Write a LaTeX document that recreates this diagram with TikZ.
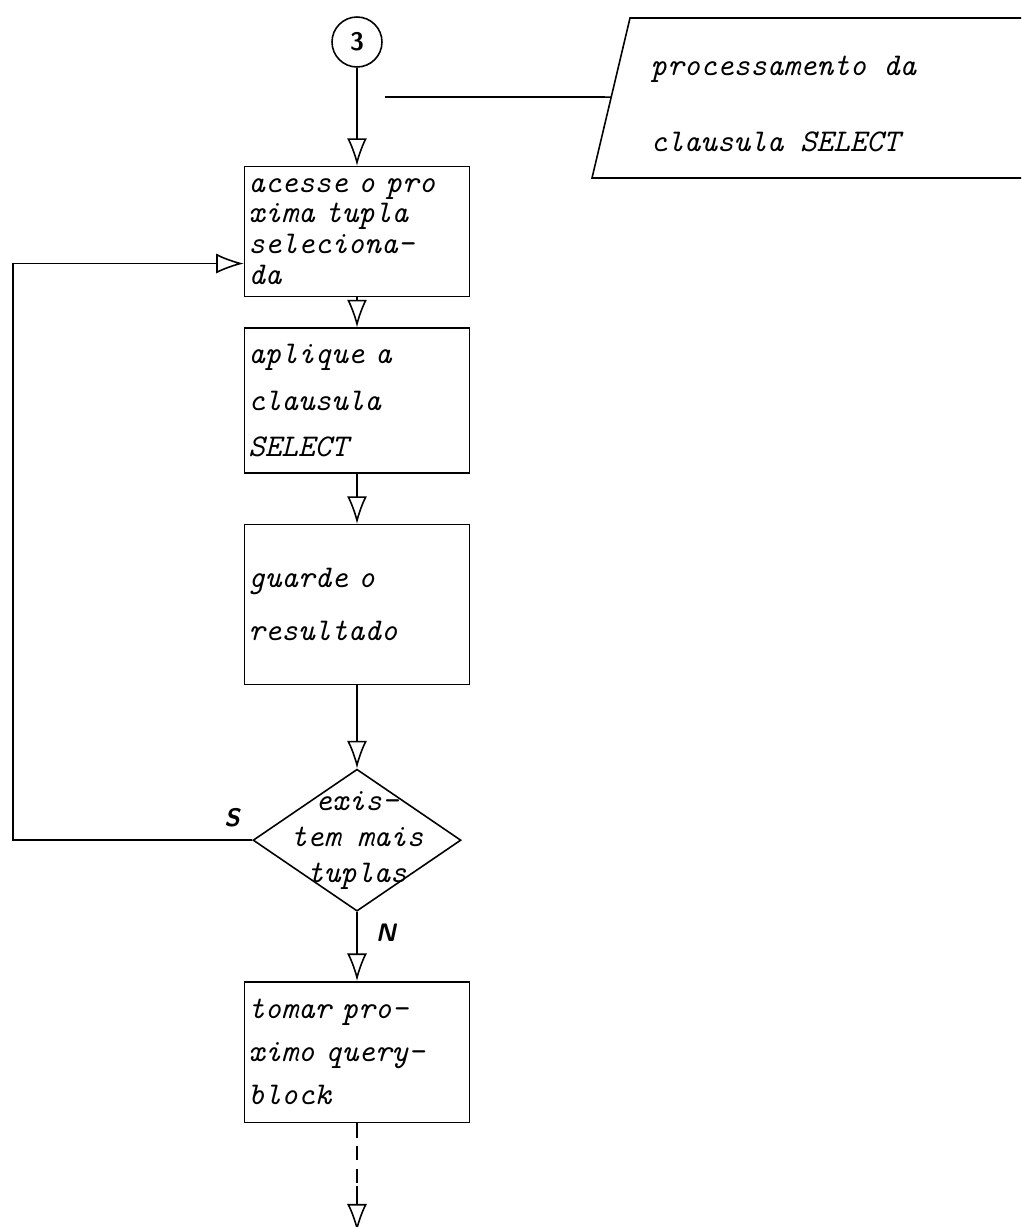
\documentclass[tikz,border=0pt]{standalone}
\usepackage{tikz}
\usetikzlibrary{shapes.geometric, arrows.meta, positioning, calc}

\begin{document}
\begin{tikzpicture}[
    x=0.02cm, y=-0.02cm,
    line width=0.9pt,
    node distance=0.6cm,
    every node/.style={font=\ttfamily\itshape\fontsize{18}{17.5}\selectfont},
    box/.style={rectangle, draw, minimum width=4.5cm, text width=4.35cm, align=left, inner sep=2pt},
    dmd/.style={diamond, draw, minimum width=4.16cm, minimum height=2.84cm, inner sep=0pt},
    conn/.style={circle, draw, minimum size=1cm, inner sep=0pt, font=\sffamily\bfseries\Large},
    flow/.style={draw, -{Latex[open, length=5.5mm, width=4mm]}},
    lbl/.style={font=\sffamily\itshape\bfseries\Large}
]
\useasboundingbox (0,0) rectangle (1021,1227);

\node [conn] (c3) at (357,42) {3};
\node [box, minimum height=2.6cm, below=1.96cm of c3] (acc) {acesse o pro\\xima tupla\\seleciona-\\da};
\node [box, minimum height=2.9cm, below=0.6cm of acc] (apl) {aplique a\\[9pt]clausula\\[9pt]SELECT};
\node [box, minimum height=3.2cm, below=1cm of apl] (grd) {guarde o\\[12.5pt]resultado};
\node [dmd, below=1.66cm of grd] (exi) {};
\node [align=center] (exitxt) at (exi) {exis-\\[3pt]tem mais\\[3pt]tuplas};
\node [box, minimum height=2.82cm, below=1.38cm of exi] (tom) {tomar pro-\\[7pt]ximo query-\\[7pt]block};
\coordinate [below=1.26cm of tom] (dsh);
\coordinate [below=0.9cm of dsh] (fim);

% nota ao lado
\coordinate (pa) at (630,18);
\coordinate (pb) at (592,178);
\coordinate (ann) at (385,97);
\draw (1021,18) -- (pa) -- (pb) -- (1021,178);
\node [anchor=west, align=left] (prc) at (644,104) {processamento da\\[26pt]clausula SELECT};
\draw (ann) -- ($(pa)!0.494!(pb)$);

\path [flow] (c3) -- (acc);
\path [flow] (acc) -- (apl);
\path [flow] (apl) -- (grd);
\path [flow] (grd) -- (exi);
\path [flow] (exi) -- (tom);
\draw [dash pattern=on 8pt off 5pt] (tom) -- (dsh);
\path [flow] (dsh) -- (fim);

% retorno
\coordinate (lft) at (13,834);
\path [flow] (exi.west) -- (exi.west -| lft) |- ([yshift=-0.64cm]acc.west);
\node [lbl] (ls) at (232,818) {S};
\node [lbl] (ln) at (386,933) {N};

\end{tikzpicture}
\end{document}
